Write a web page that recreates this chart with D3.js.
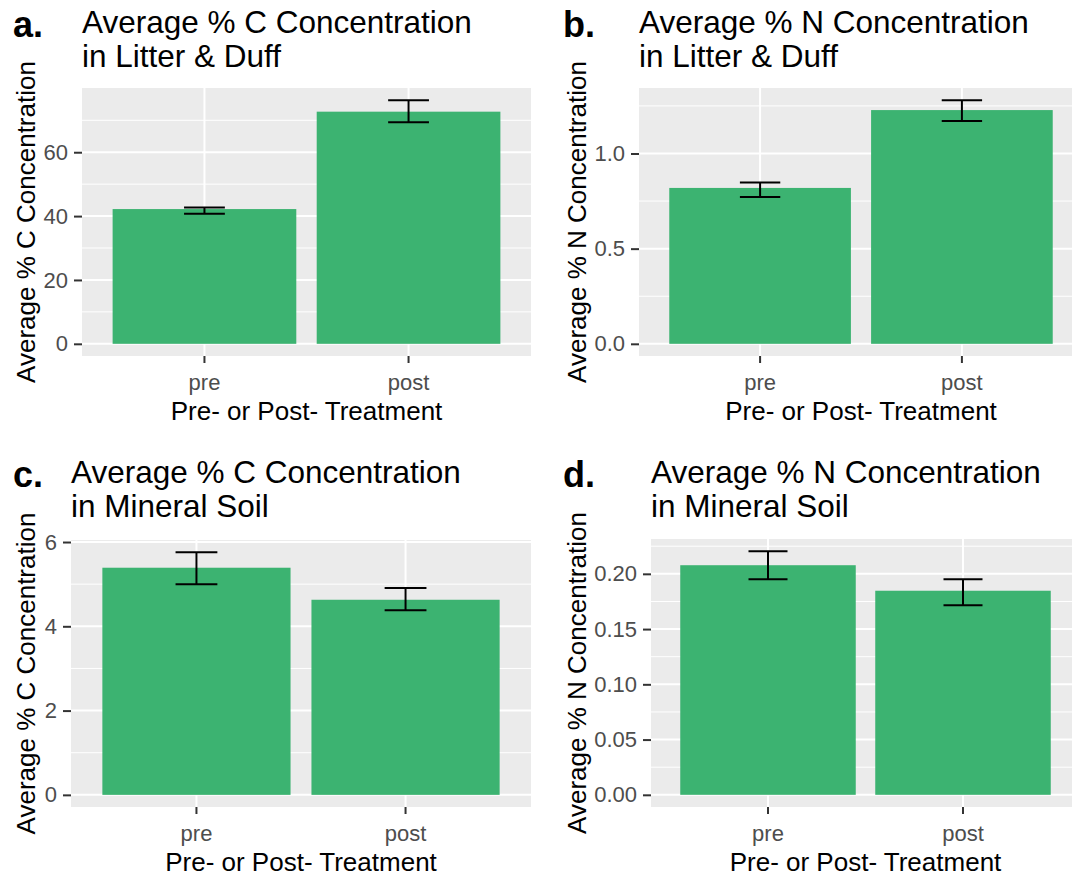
<!DOCTYPE html>
<html>
<head>
<meta charset="utf-8">
<script src="https://cdn.jsdelivr.net/npm/d3@7"></script>
<style>
  body { margin: 0; background: #fff; }
  svg { display: block; font-family: "Liberation Sans", Arial, sans-serif; }
</style>
</head>
<body>
<svg width="1072" height="880"></svg>
<script>
// categories on the x axis, shared by all four plots
var categories = ["pre", "post"];

// panel tags and titles
var tags = ["a.", "b.", "c.", "d."];
var titleLine1 = ["Average % C Concentration", "Average % N Concentration", "Average % C Concentration", "Average % N Concentration"];
var titleLine2 = ["in Litter & Duff", "in Litter & Duff", "in Mineral Soil", "in Mineral Soil"];
var yTitles = ["Average % C Concentration", "Average % N Concentration", "Average % C Concentration", "Average % N Concentration"];
var xTitle = "Pre- or Post- Treatment";

// means and error bar ends (pre, post)
var litterC = [42.2, 72.7], litterCLow = [40.7, 69.4], litterCHigh = [42.7, 76.3];
var litterN = [0.819, 1.228], litterNLow = [0.772, 1.170], litterNHigh = [0.848, 1.280];
var soilC = [5.39, 4.63], soilCLow = [5.00, 4.38], soilCHigh = [5.76, 4.91];
var soilN = [0.2078, 0.1847], soilNLow = [0.195, 0.1715], soilNHigh = [0.2205, 0.1952];

// major tick labels
var ticksA = [0, 20, 40, 60];
var ticksB = [0, 0.5, 1.0];
var ticksC = [0, 2, 4, 6];
var ticksD = [0, 0.05, 0.10, 0.15, 0.20];

// panel boxes in px (layout only)
var boxes = [
  {x0: 82, x1: 531, y0: 88, y1: 356, tagX: 13, yLabX: 35, titleY: 33.3, tagY: 36.7},
  {x0: 639, x1: 1083, y0: 88, y1: 356, tagX: 563, yLabX: 586, titleY: 33.3, tagY: 36.7},
  {x0: 71, x1: 531, y0: 540, y1: 807, tagX: 13, yLabX: 35, titleY: 483.3, tagY: 486.7},
  {x0: 651, x1: 1080, y0: 539, y1: 807, tagX: 563, yLabX: 586, titleY: 483.3, tagY: 486.7}
];

var panels = [
  {mean: litterC, low: litterCLow, high: litterCHigh, ticks: ticksA, fmt: d3.format("d")},
  {mean: litterN, low: litterNLow, high: litterNHigh, ticks: ticksB, fmt: d3.format(".1f")},
  {mean: soilC, low: soilCLow, high: soilCHigh, ticks: ticksC, fmt: d3.format("d")},
  {mean: soilN, low: soilNLow, high: soilNHigh, ticks: ticksD, fmt: d3.format(".2f")}
];

var svg = d3.select("svg");

panels.forEach(function(p, i) {
  var b = boxes[i];
  var data = categories.map(function(c, k) {
    return {cat: c, mean: p.mean[k], low: p.low[k], high: p.high[k]};
  });

  // ggplot-like 5% expansion of [0, max]
  var top = d3.max(data, function(d) { return Math.max(d.high, d.mean); });
  var pad = top * 0.05;
  var y = d3.scaleLinear().domain([-pad, top + pad]).range([b.y1, b.y0]);
  var x = d3.scaleBand().domain(categories).range([b.x0, b.x1]).paddingInner(0).paddingOuter(0.1);
  var step = x.step();
  var cx = function(d) { return x(d) + x.bandwidth() / 2; };

  var g = svg.append("g");

  // panel background
  g.append("rect")
    .attr("x", b.x0).attr("y", b.y0)
    .attr("width", b.x1 - b.x0).attr("height", b.y1 - b.y0)
    .attr("fill", "#EBEBEB");

  // minor grid lines halfway between majors
  var s = p.ticks[1] - p.ticks[0];
  var minors = [p.ticks[0] - s / 2].concat(p.ticks.map(function(v) { return v + s / 2; }))
    .filter(function(v) { return v >= y.domain()[0] && v <= y.domain()[1]; });

  g.selectAll(".minor").data(minors).enter().append("line")
    .attr("x1", b.x0).attr("x2", b.x1)
    .attr("y1", function(d) { return y(d); }).attr("y2", function(d) { return y(d); })
    .attr("stroke", "#fff").attr("stroke-width", 1);

  g.selectAll(".major").data(p.ticks).enter().append("line")
    .attr("x1", b.x0).attr("x2", b.x1)
    .attr("y1", function(d) { return y(d); }).attr("y2", function(d) { return y(d); })
    .attr("stroke", "#fff").attr("stroke-width", 2);

  g.selectAll(".vmajor").data(categories).enter().append("line")
    .attr("x1", cx).attr("x2", cx)
    .attr("y1", b.y0).attr("y2", b.y1)
    .attr("stroke", "#fff").attr("stroke-width", 2);

  // bars
  g.selectAll(".bar").data(data).enter().append("rect")
    .attr("x", function(d) { return cx(d.cat) - step * 0.45; })
    .attr("width", step * 0.9)
    .attr("y", function(d) { return y(d.mean); })
    .attr("height", function(d) { return y(0) - y(d.mean); })
    .attr("fill", "#3CB371");

  // error bars
  var eb = g.selectAll(".err").data(data).enter().append("g")
    .attr("stroke", "#000").attr("stroke-width", 2);
  eb.append("line")
    .attr("x1", function(d) { return cx(d.cat); }).attr("x2", function(d) { return cx(d.cat); })
    .attr("y1", function(d) { return y(d.low); }).attr("y2", function(d) { return y(d.high); });
  eb.append("line")
    .attr("x1", function(d) { return cx(d.cat) - step * 0.1; }).attr("x2", function(d) { return cx(d.cat) + step * 0.1; })
    .attr("y1", function(d) { return y(d.low); }).attr("y2", function(d) { return y(d.low); });
  eb.append("line")
    .attr("x1", function(d) { return cx(d.cat) - step * 0.1; }).attr("x2", function(d) { return cx(d.cat) + step * 0.1; })
    .attr("y1", function(d) { return y(d.high); }).attr("y2", function(d) { return y(d.high); });

  // axes
  var yAxis = g.append("g")
    .attr("transform", "translate(" + b.x0 + ",0)")
    .call(d3.axisLeft(y).tickValues(p.ticks).tickFormat(p.fmt).tickSize(8).tickPadding(6));
  var xAxis = g.append("g")
    .attr("transform", "translate(0," + b.y1 + ")")
    .call(d3.axisBottom(x).tickSize(7).tickPadding(11));

  [yAxis, xAxis].forEach(function(ax) {
    ax.select(".domain").remove();
    ax.selectAll(".tick line").attr("stroke", "#333").attr("stroke-width", 2);
    ax.selectAll(".tick text")
      .attr("fill", "#4D4D4D")
      .style("font-size", "22px")
      .style("font-family", "'Liberation Sans', Arial, sans-serif");
  });

  // axis titles, centred on the full (unclipped) panel
  g.append("text")
    .attr("x", (b.x0 + b.x1) / 2)
    .attr("y", b.y1 + 64)
    .attr("text-anchor", "middle")
    .style("font-size", "26px")
    .text(xTitle);

  g.append("text")
    .attr("transform", "translate(" + b.yLabX + "," + (b.y0 + b.y1) / 2 + ") rotate(-90)")
    .attr("text-anchor", "middle")
    .style("font-size", "26px")
    .text(yTitles[i]);

  // title and tag
  var t = g.append("text").attr("x", b.x0).attr("y", b.titleY).style("font-size", "31.5px");
  t.append("tspan").attr("x", b.x0).text(titleLine1[i]);
  t.append("tspan").attr("x", b.x0).attr("dy", 33.4).text(titleLine2[i]);

  g.append("text")
    .attr("x", b.tagX).attr("y", b.tagY)
    .style("font-size", "36px").style("font-weight", "bold")
    .text(tags[i]);
});
</script>
</body>
</html>
